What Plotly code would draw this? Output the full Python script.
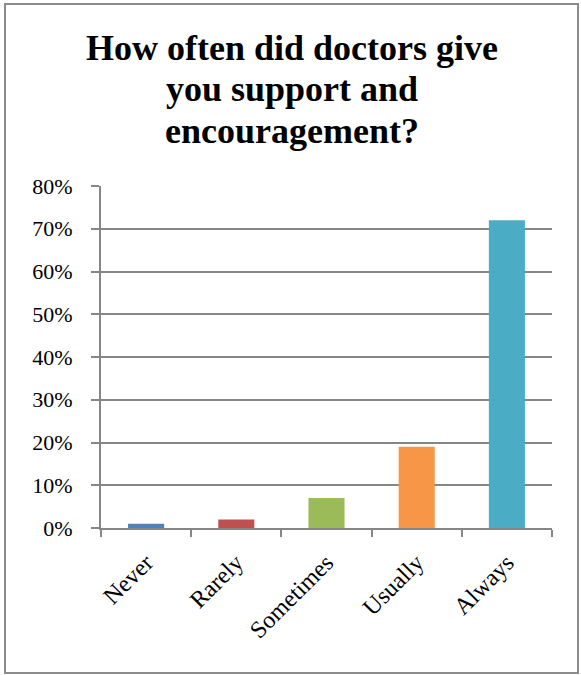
import plotly.graph_objects as go

# Survey responses
categories = ["Never", "Rarely", "Sometimes", "Usually", "Always"]
shares = [0.01, 0.02, 0.07, 0.19, 0.72]
bar_colors = ["#4F81BD", "#C0504D", "#9BBB59", "#F79646", "#4BACC6"]
y_ticks = [0, 0.1, 0.2, 0.3, 0.4, 0.5, 0.6, 0.7, 0.8]
y_tick_labels = ["0%", "10%", "20%", "30%", "40%", "50%", "60%", "70%", "80%"]
title_lines = ["How often did doctors give", "you support and", "encouragement?"]

W, H = 581, 675
L, R, T, B = 101, 29, 186, 147
pw, ph = W - L - R, H - T - B

grid = "#868686"
serif = "Liberation Serif, Times New Roman, serif"


def px_to_paper_x(px):
    return (px - L) / pw


def px_to_paper_y(py):
    return (H - B - py) / ph


fig = go.Figure(
    go.Bar(
        x=categories,
        y=shares,
        marker=dict(color=bar_colors, line=dict(width=0)),
        width=0.4,
    )
)

# outer frame around the whole chart
fig.add_shape(
    type="rect",
    xref="paper", yref="paper",
    x0=px_to_paper_x(5), x1=px_to_paper_x(578),
    y0=px_to_paper_y(673), y1=px_to_paper_y(4),
    line=dict(color="#8c8c8c", width=2),
    fillcolor="rgba(0,0,0,0)",
    layer="below",
)

# three-line bold title, one annotation per line
for line, cy in zip(title_lines, [48, 89, 131]):
    fig.add_annotation(
        text=line,
        xref="paper", yref="paper",
        x=px_to_paper_x(292), y=px_to_paper_y(cy),
        xanchor="center", yanchor="middle",
        showarrow=False,
        font=dict(family=serif, size=36, color="black", weight="bold"),
    )

fig.update_layout(
    width=W,
    height=H,
    margin=dict(l=L, r=R, t=T, b=B),
    paper_bgcolor="white",
    plot_bgcolor="white",
    showlegend=False,
    font=dict(family=serif, color="black"),
)

fig.update_xaxes(
    type="category",
    showline=True,
    linecolor=grid,
    linewidth=2,
    ticks="outside",
    tickson="boundaries",
    ticklen=7,
    tickwidth=2,
    tickcolor=grid,
    tickangle=-45,
    ticklabelstandoff=9,
    tickfont=dict(family=serif, size=24, color="black"),
    showgrid=False,
)

fig.update_yaxes(
    range=[0, 0.8],
    tickvals=y_ticks,
    ticktext=y_tick_labels,
    showline=True,
    linecolor=grid,
    linewidth=2,
    ticks="outside",
    ticklen=8,
    tickwidth=2,
    tickcolor=grid,
    ticklabelstandoff=14,
    showgrid=True,
    gridcolor=grid,
    gridwidth=2,
    zeroline=False,
    tickfont=dict(family=serif, size=22, color="black"),
)

fig.write_html("out.html")
